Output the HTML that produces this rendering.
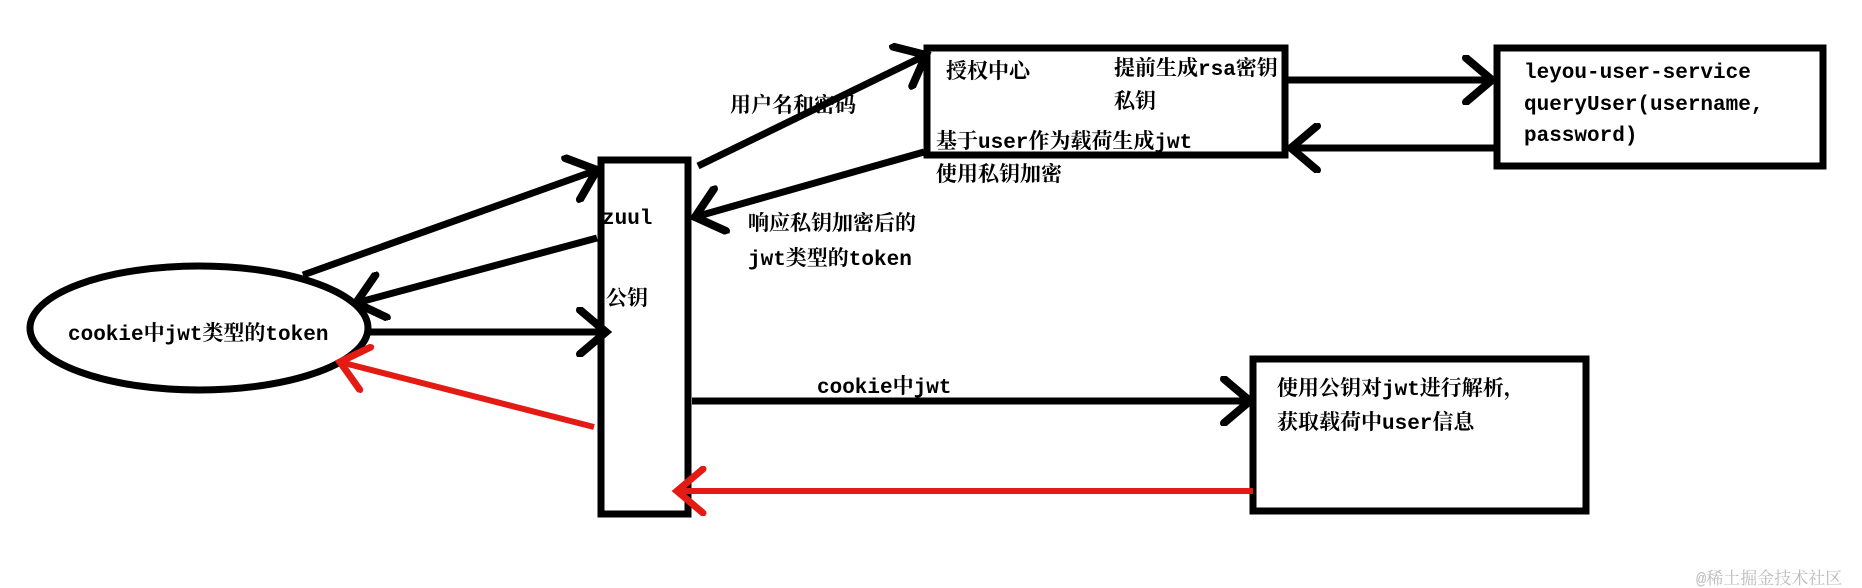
<!DOCTYPE html>
<html><head><meta charset="utf-8"><style>
html,body{margin:0;padding:0;background:#fff;}
svg{display:block}
text{font-family:"Liberation Mono","Noto Serif CJK SC","Noto Sans CJK SC",monospace;font-size:21px;font-weight:bold;fill:#000;}
</style></head><body>
<svg width="1862" height="588" viewBox="0 0 1862 588" xmlns="http://www.w3.org/2000/svg">
<defs>
<marker id="ab" markerUnits="userSpaceOnUse" markerWidth="50" markerHeight="50" refX="36" refY="25" orient="auto">
<path d="M10,3 L36,25 L10,47" fill="none" stroke="#000" stroke-width="8" stroke-linecap="round"/>
</marker>
<marker id="ar" markerUnits="userSpaceOnUse" markerWidth="50" markerHeight="50" refX="36" refY="25" orient="auto">
<path d="M10,3 L36,25 L10,47" fill="none" stroke="#e31b14" stroke-width="7" stroke-linecap="round"/>
</marker>
</defs>
<g fill="none" stroke="#000" stroke-width="7">
<rect x="601" y="160" width="87" height="354"/>
<rect x="927" y="48" width="358" height="107"/>
<rect x="1497" y="48" width="326" height="118"/>
<rect x="1253" y="359" width="333" height="152"/>
<ellipse cx="199" cy="328" rx="169" ry="62"/>
<line x1="698" y1="166" x2="926" y2="55" marker-end="url(#ab)"/>
<line x1="924" y1="152" x2="695" y2="217" marker-end="url(#ab)"/>
<line x1="303" y1="275" x2="597" y2="170" marker-end="url(#ab)"/>
<line x1="597" y1="238" x2="356" y2="303" marker-end="url(#ab)"/>
<line x1="368" y1="332" x2="606" y2="332" marker-end="url(#ab)"/>
<line x1="692" y1="401" x2="1250" y2="401" marker-end="url(#ab)"/>
<line x1="1288" y1="80" x2="1492" y2="80" marker-end="url(#ab)"/>
<line x1="1494" y1="148" x2="1291" y2="148" marker-end="url(#ab)"/>
</g>
<g fill="none" stroke="#e31b14" stroke-width="6">
<line x1="594" y1="427" x2="340" y2="362" marker-end="url(#ar)"/>
<line x1="1253" y1="491" x2="677" y2="491" marker-end="url(#ar)"/>
</g>
<text x="730" y="112">用户名和密码</text>
<text x="946" y="78">授权中心</text>
<text x="1114" y="75">提前生成rsa密钥</text>
<text x="1114" y="108">私钥</text>
<text x="936" y="148">基于user作为载荷生成jwt</text>
<text x="936" y="181">使用私钥加密</text>
<text x="602" y="224">zuul</text>
<text x="606" y="305">公钥</text>
<text x="748" y="230">响应私钥加密后的</text>
<text x="748" y="265">jwt类型的token</text>
<text x="68" y="340">cookie中jwt类型的token</text>
<text x="817" y="393">cookie中jwt</text>
<text x="1524" y="78">leyou-user-service</text>
<text x="1524" y="110">queryUser(username,</text>
<text x="1524" y="141">password)</text>
<text x="1277" y="395">使用公钥对jwt进行解析，</text>
<text x="1277" y="429">获取载荷中user信息</text>
<text x="1696" y="584" style="font-size:17px;font-weight:normal;fill:#bbb">@稀土掘金技术社区</text>
</svg>
</body></html>
